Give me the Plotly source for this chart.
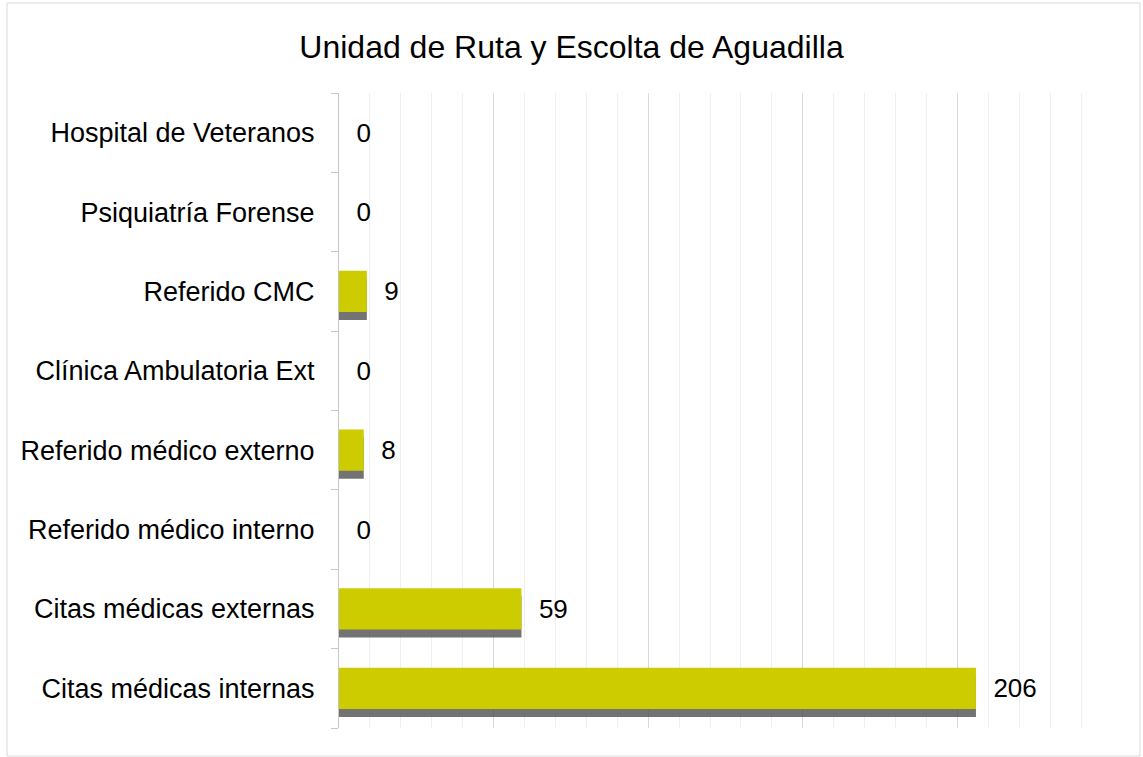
import plotly.graph_objects as go

# data, bottom to top
categorias = ['Citas médicas internas', 'Citas médicas externas', 'Referido médico interno',
              'Referido médico externo', 'Clínica Ambulatoria Ext', 'Referido CMC',
              'Psiquiatría Forense', 'Hospital de Veteranos']
valores = [206, 59, 0, 8, 0, 9, 0, 0]
titulo = 'Unidad de Ruta y Escolta de Aguadilla'

W, H = 1143, 757
ml, mr, mt, mb = 339, 31, 93, 29
pw, ph = W - ml - mr, H - mt - mb
fuente = 'Liberation Sans, Arial'

bar_w = 0.52
fig = go.Figure()
# shadow under the bars
fig.add_bar(y=categorias, x=valores, orientation='h',
            width=bar_w, offset=-bar_w / 2 - 0.1,
            marker=dict(color='rgba(80,80,80,0.8)', line=dict(width=0)),
            hoverinfo='skip', showlegend=False)
fig.add_bar(y=categorias, x=valores, orientation='h',
            width=bar_w, offset=-bar_w / 2,
            marker=dict(color='#cccc00', line=dict(width=0)),
            text=valores, textposition='outside', texttemplate='  %{x}',
            textfont=dict(size=26, color='black', family=fuente),
            cliponaxis=False, showlegend=False)

fig.update_layout(
    width=W, height=H,
    margin=dict(l=ml, r=mr, t=mt, b=mb),
    paper_bgcolor='white', plot_bgcolor='white',
    barmode='overlay',
    font=dict(family=fuente, color='black'),
    title=dict(text=titulo, x=0.5, xref='container', y=1 - 47 / H, yref='container',
               xanchor='center', yanchor='middle',
               font=dict(size=32, color='black', family=fuente)),
    xaxis=dict(range=[0, 250], dtick=50, showticklabels=False, showgrid=True,
               gridcolor='#d9d9d9', gridwidth=1, zeroline=False, showline=False,
               minor=dict(dtick=10, showgrid=True, gridcolor='#efefef', gridwidth=1)),
    yaxis=dict(categoryorder='array', categoryarray=categorias, tickson='boundaries',
               ticks='outside', ticklen=7, tickcolor='#c8c8c8', showline=True,
               linecolor='#c8c8c8', linewidth=1, ticklabelstandoff=18,
               tickfont=dict(size=27, color='black', family=fuente),
               showgrid=False),
)

# outer border
fig.add_shape(type='rect', xref='paper', yref='paper',
              x0=(7 - ml) / pw, x1=(1140 - ml) / pw,
              y0=(H - mb - 756) / ph, y1=(H - mb - 3) / ph,
              line=dict(color='#d9d9d9', width=1), layer='below')

fig.write_html('out.html', config={'displayModeBar': False},
               post_script="document.body.style.margin='0';")
